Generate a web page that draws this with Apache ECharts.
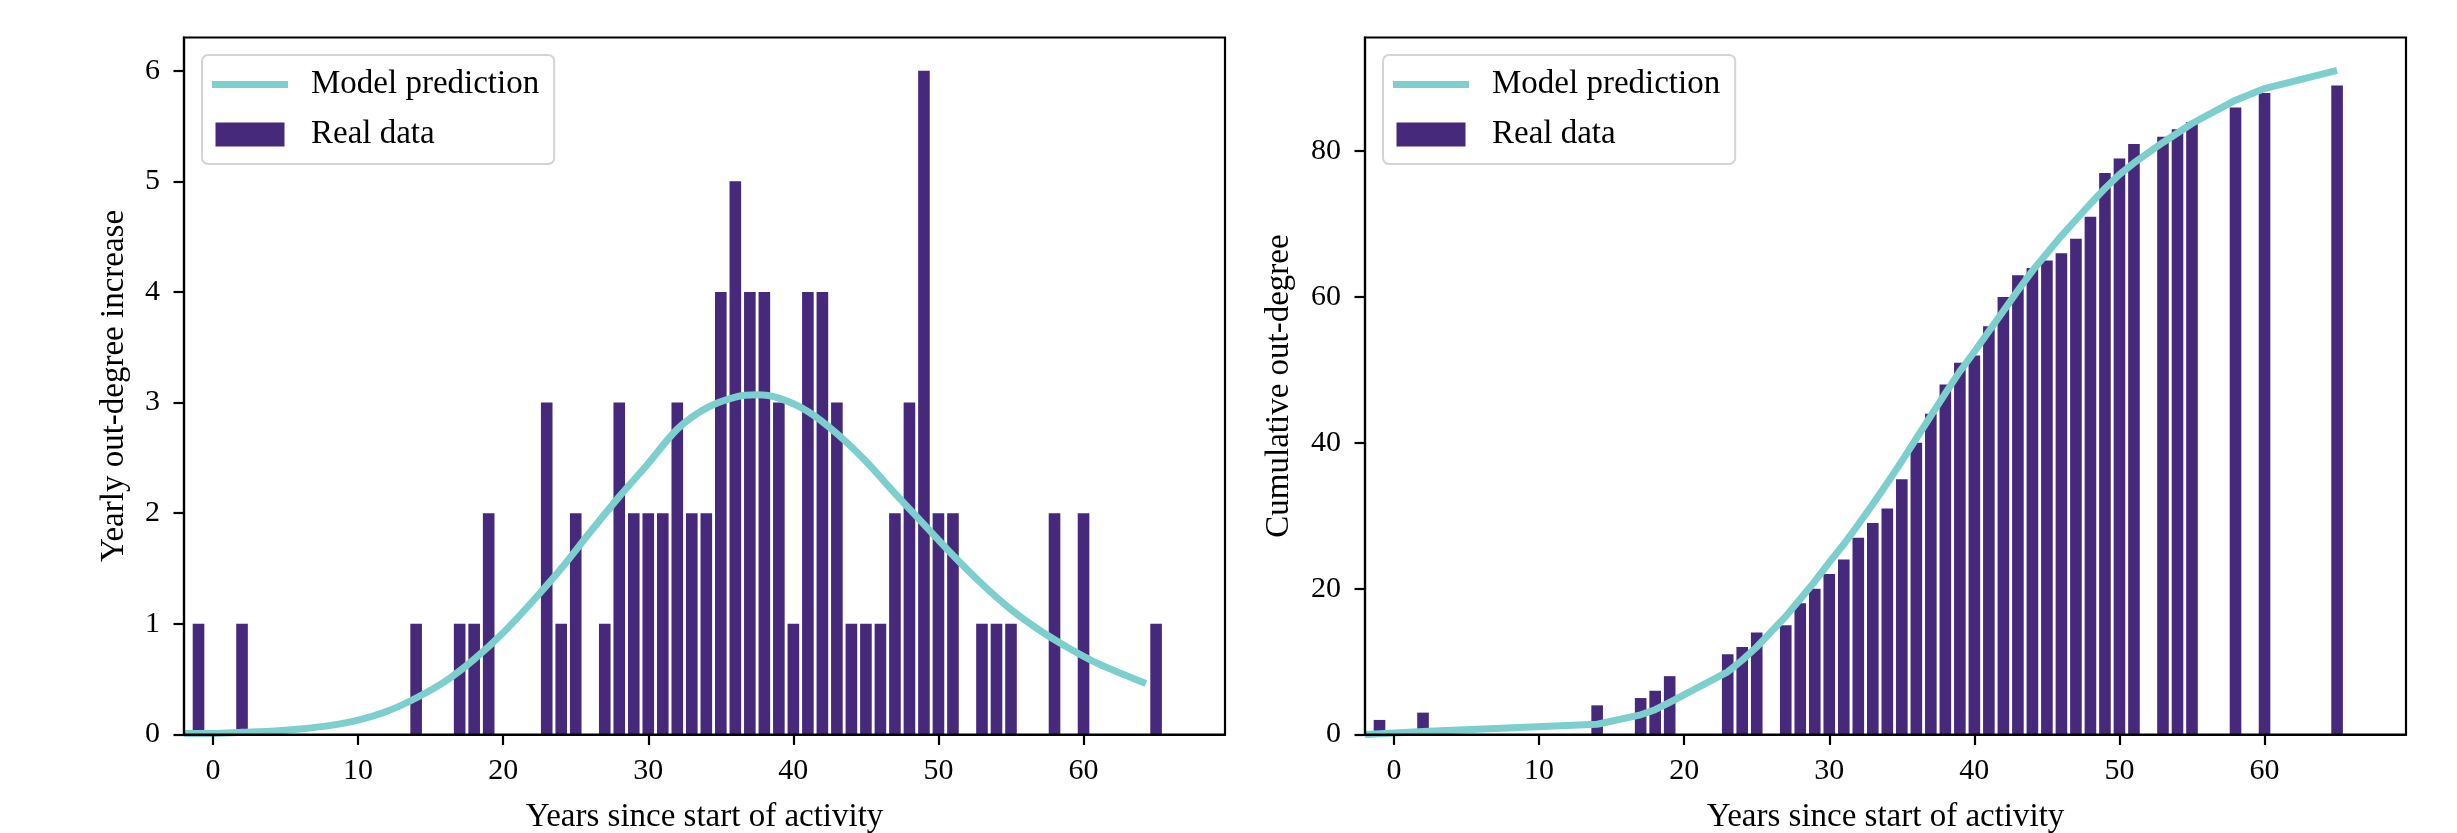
<!DOCTYPE html>
<html>
<head>
<meta charset="utf-8">
<title>Out-degree model</title>
<script src="https://cdn.jsdelivr.net/npm/echarts@6/dist/echarts.min.js"></script>
<style>
	html, body { margin:0; padding:0; background:#fff; }
	#main { width:2457px; height:833px; }
</style>
</head>
<body>
<div id="main"></div>
<script>
// real data: years that have a bar, yearly increase and cumulative out-degree
var years = [-1, 2, 14, 17, 18, 19, 23, 24, 25, 27, 28, 29, 30, 31, 32, 33, 34, 35, 36, 37, 38, 39, 40, 41, 42, 43, 44, 45, 46, 47, 48, 49, 50, 51, 53, 54, 55, 58, 60, 65];
var yearlyIncrease = [1, 1, 1, 1, 1, 2, 3, 1, 2, 1, 3, 2, 2, 2, 3, 2, 2, 4, 5, 4, 4, 3, 1, 4, 4, 3, 1, 1, 1, 2, 3, 6, 2, 2, 1, 1, 1, 2, 2, 1];
var cumulative = [2, 3, 4, 5, 6, 8, 11, 12, 14, 15, 18, 20, 22, 24, 27, 29, 31, 35, 40, 44, 48, 51, 52, 56, 60, 63, 64, 65, 66, 68, 71, 77, 79, 81, 82, 83, 84, 86, 88, 89];

// model prediction
var fitYears = [-2, 0, 2, 4, 6, 8, 10, 12, 14, 16, 18, 20, 22, 24, 26, 28, 30, 32, 34, 36, 37.5, 39, 41, 43, 45, 47, 49, 51, 53, 55, 57, 59, 61, 63, 64.3];
var fitYearly = [0.01, 0.01, 0.02, 0.03, 0.05, 0.08, 0.13, 0.21, 0.33, 0.48, 0.68, 0.92, 1.2, 1.5, 1.83, 2.15, 2.45, 2.76, 2.95, 3.05, 3.07, 3.04, 2.92, 2.72, 2.47, 2.18, 1.9, 1.62, 1.36, 1.13, 0.94, 0.78, 0.64, 0.53, 0.46];
var fitCumYears = [-2, -1, 2, 14, 17, 18, 19, 23, 24, 25, 27, 28, 29, 30, 31, 32, 33, 34, 35, 36, 37, 38, 39, 40, 41, 42, 43, 44, 45, 46, 47, 48, 49, 50, 51, 53, 54, 55, 58, 60, 65];
var fitCumulative = [0, 0.1, 0.4, 1.4, 2.7, 3.4, 4.4, 8.6, 10.2, 12.0, 16.2, 18.6, 21.0, 23.6, 26.1, 28.8, 31.6, 34.5, 37.5, 40.6, 43.7, 46.8, 49.8, 52.5, 55.3, 58.1, 60.9, 63.6, 66.0, 68.4, 70.6, 72.8, 74.9, 76.8, 78.4, 81.2, 82.5, 83.8, 87.0, 88.6, 91.1];

var xTicks = [0, 10, 20, 30, 40, 50, 60];
var yTicksLeft = [0, 1, 2, 3, 4, 5, 6];
var yTicksRight = [0, 20, 40, 60, 80];

var serif = 'Liberation Serif';
var barColor = '#46297a';
var lineColor = '#7ccfcd';
var axisLine = {color:'#000', width:2.2};

function pairs(xs, ys){
	var out = [];
	for(var i = 0; i < xs.length; i++){
		out.push([xs[i], ys[i]]);
	}
	return out;
}

function gridAt(left){
	return {
		left:left, top:37.5, width:1041, height:697,
		containLabel:false, outerBoundsMode:'none',
		show:true, borderColor:'#000', borderWidth:2.2, backgroundColor:'transparent', z:10
	};
}

function xAxisFor(idx){
	return {
		type:'value', gridIndex:idx, min:-2, max:69.75,
		name:'Years since start of activity', nameLocation:'middle', nameGap:66,
		nameTextStyle:{fontFamily:serif, fontSize:33, color:'#000'},
		axisLine:{show:true, onZero:false, lineStyle:axisLine},
		axisTick:{show:true, customValues:xTicks, length:10.5, lineStyle:axisLine},
		axisLabel:{customValues:xTicks, margin:22, fontFamily:serif, fontSize:30, color:'#000'},
		splitLine:{show:false},
		z:10
	};
}

function yAxisFor(idx, max, ticks, name, gap){
	return {
		type:'value', gridIndex:idx, min:0, max:max,
		name:name, nameLocation:'middle', nameGap:gap,
		nameTextStyle:{fontFamily:serif, fontSize:33, color:'#000'},
		axisLine:{show:true, onZero:false, lineStyle:axisLine},
		axisTick:{show:true, customValues:ticks, length:10.5, lineStyle:axisLine},
		axisLabel:{customValues:ticks, margin:24, fontFamily:serif, fontSize:30, color:'#000'},
		splitLine:{show:false},
		z:10
	};
}

function legendAt(left){
	return {
		orient:'vertical', left:left, top:55,
		backgroundColor:'#fff', borderColor:'#d4d4d4', borderWidth:2, borderRadius:6,
		padding:[13, 15, 13, 10], itemGap:17, itemWidth:76, itemHeight:24,
		itemStyle:{borderWidth:0},
		textStyle:{fontFamily:serif, fontSize:33, color:'#000', padding:[0, 0, 0, 18]},
		selectedMode:false,
		data:[
			{name:'Model prediction', icon:'path://M0,0L76,0L76,7L0,7Z'},
			{name:'Real data', icon:'path://M0,0L69,0L69,24L0,24Z'}
		]
	};
}

var myChart = echarts.init(document.getElementById('main'));

var option = {
	backgroundColor:'#fff',
	animation:false,
	grid:[gridAt(184), gridAt(1365)],
	xAxis:[xAxisFor(0), xAxisFor(1)],
	yAxis:[
		yAxisFor(0, 6.3, yTicksLeft, 'Yearly out-degree increase', 53),
		yAxisFor(1, 95.6, yTicksRight, 'Cumulative out-degree', 69)
	],
	legend:[legendAt(202), legendAt(1383)],
	series:[
		{
			name:'Real data', type:'bar', xAxisIndex:0, yAxisIndex:0,
			data:pairs(years, yearlyIncrease), barWidth:'80%',
			itemStyle:{color:barColor}, z:2
		},
		{
			name:'Model prediction', type:'line', xAxisIndex:0, yAxisIndex:0,
			data:pairs(fitYears, fitYearly), symbol:'none', showSymbol:false, smooth:0.3,
			lineStyle:{color:lineColor, width:7}, itemStyle:{color:lineColor}, z:3
		},
		{
			name:'Real data', type:'bar', xAxisIndex:1, yAxisIndex:1,
			data:pairs(years, cumulative), barWidth:'80%',
			itemStyle:{color:barColor}, z:2
		},
		{
			name:'Model prediction', type:'line', xAxisIndex:1, yAxisIndex:1,
			data:pairs(fitCumYears, fitCumulative), symbol:'none', showSymbol:false,
			lineStyle:{color:lineColor, width:7, join:'round'}, itemStyle:{color:lineColor}, z:3
		}
	]
};

myChart.setOption(option);
</script>
</body>
</html>
